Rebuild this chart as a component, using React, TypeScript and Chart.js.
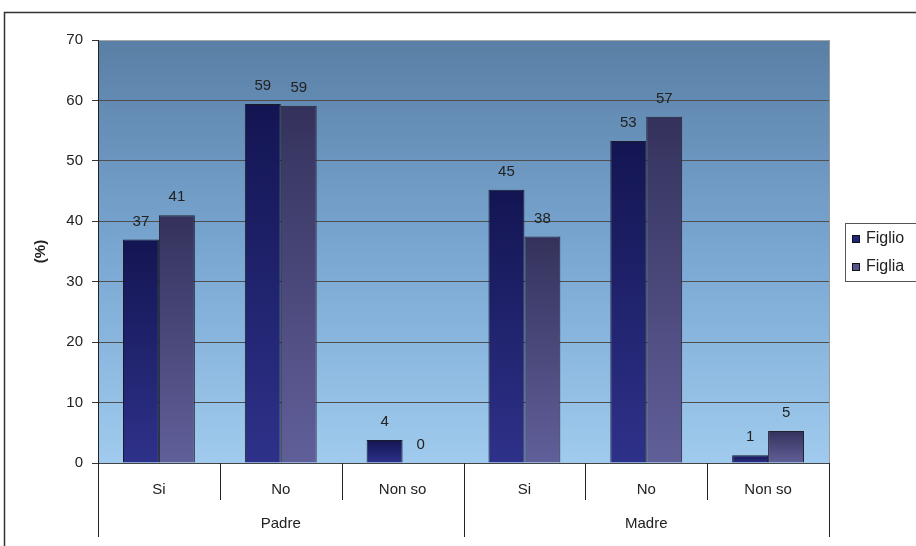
import React, { useEffect, useRef } from "react";
import { Chart, registerables } from "chart.js";

Chart.register(...registerables);

const groups = ["Padre", "Madre"];
const categories = ["Si", "No", "Non so", "Si", "No", "Non so"];
const figlio = [37, 59.4, 3.8, 45.2, 53.3, 1.3];
const figlia = [41, 59.1, 0, 37.5, 57.3, 5.3];
const seriesNames = ["Figlio", "Figlia"];
const yTitle = "(%)";

const FONT = "'Liberation Sans', Arial, sans-serif";
const W = 960;
const H = 560;

const barGradient = (top: string, bottom: string) => (ctx: any) => {
  const chart = ctx.chart;
  if (ctx.type !== "data" || !chart.chartArea) return bottom;
  const ys = chart.scales.y;
  const v = ctx.parsed ? ctx.parsed.y : ctx.raw;
  const y0 = ys.getPixelForValue(v);
  const y1 = ys.getPixelForValue(0);
  if (!isFinite(y0) || !isFinite(y1) || y1 - y0 < 1) return bottom;
  const g = chart.ctx.createLinearGradient(0, y0, 0, y1);
  g.addColorStop(0, top);
  g.addColorStop(1, bottom);
  return g;
};

const decor = {
  id: "decor",
  beforeDraw(chart: any) {
    const { ctx, chartArea: a } = chart;
    ctx.save();
    ctx.strokeStyle = "#333";
    ctx.lineWidth = 1.5;
    ctx.beginPath();
    ctx.moveTo(4.5, H);
    ctx.lineTo(4.5, 12.5);
    ctx.lineTo(W, 12.5);
    ctx.stroke();
    const g = ctx.createLinearGradient(0, a.top, 0, a.bottom);
    g.addColorStop(0, "#5a7fa5");
    g.addColorStop(0.5, "#79a7d2");
    g.addColorStop(1, "#a0cbee");
    ctx.fillStyle = g;
    ctx.fillRect(a.left, a.top, a.right - a.left, a.bottom - a.top);
    ctx.restore();
  },
  afterDatasetsDraw(chart: any) {
    const { ctx } = chart;
    ctx.save();
    ctx.font = `15px ${FONT}`;
    ctx.fillStyle = "#222";
    ctx.textAlign = "center";
    ctx.textBaseline = "middle";
    chart.data.datasets.forEach((ds: any, di: number) => {
      const meta = chart.getDatasetMeta(di);
      meta.data.forEach((el: any, i: number) => {
        ctx.fillText(String(Math.round(ds.data[i])), el.x, el.y - 18);
      });
    });
    ctx.restore();
  },
  afterDraw(chart: any) {
    const { ctx, chartArea: a } = chart;
    const xs = chart.scales.x;
    ctx.save();
    ctx.strokeStyle = "#9a9a9a";
    ctx.lineWidth = 1;
    ctx.beginPath();
    ctx.moveTo(Math.round(a.right) + 0.5, a.top);
    ctx.lineTo(Math.round(a.right) + 0.5, a.bottom);
    ctx.stroke();
    ctx.strokeStyle = "#444";
    ctx.beginPath();
    ctx.moveTo(a.left, Math.round(a.bottom) + 0.5);
    ctx.lineTo(a.right + 1, Math.round(a.bottom) + 0.5);
    ctx.stroke();

    const n = categories.length;
    const per = n / groups.length;
    const bounds: number[] = [];
    for (let i = 0; i <= n; i++) {
      if (i === 0) bounds.push(a.left);
      else if (i === n) bounds.push(a.right);
      else bounds.push((xs.getPixelForValue(i - 1) + xs.getPixelForValue(i)) / 2);
    }
    ctx.strokeStyle = "#222";
    bounds.forEach((bx, i) => {
      const isGroup = i % per === 0;
      const x = Math.round(bx) + 0.5;
      ctx.beginPath();
      ctx.moveTo(x, a.bottom);
      ctx.lineTo(x, isGroup ? a.bottom + 74 : a.bottom + 37);
      ctx.stroke();
    });
    ctx.font = `15px ${FONT}`;
    ctx.fillStyle = "#222";
    ctx.textAlign = "center";
    ctx.textBaseline = "middle";
    categories.forEach((c, i) => {
      ctx.fillText(c, xs.getPixelForValue(i), a.bottom + 27);
    });
    groups.forEach((gname, gi) => {
      const x0 = bounds[gi * per];
      const x1 = bounds[(gi + 1) * per];
      ctx.fillText(gname, (x0 + x1) / 2, a.bottom + 61);
    });

    const lx = 845;
    const ly = 223;
    ctx.strokeStyle = "#555";
    ctx.lineWidth = 1;
    ctx.strokeRect(lx + 0.5, ly + 0.5, W - lx + 10, 58);
    const sw = ["#20237a", "#55558c"];
    ctx.font = `16px ${FONT}`;
    chart.data.datasets.forEach((ds: any, i: number) => {
      const cy = ly + 16 + i * 28;
      ctx.fillStyle = sw[i];
      ctx.fillRect(852, cy - 4, 8, 8);
      ctx.strokeStyle = "#111";
      ctx.strokeRect(852.5, cy - 3.5, 7, 7);
      ctx.fillStyle = "#222";
      ctx.textAlign = "left";
      ctx.fillText(ds.label, 866, cy);
    });
    ctx.restore();
  },
};

export default function App() {
  const ref = useRef<HTMLCanvasElement | null>(null);
  useEffect(() => {
    if (!ref.current) return;
    const chart = new Chart(ref.current, {
      type: "bar",
      data: {
        labels: categories,
        datasets: [
          {
            label: seriesNames[0],
            data: figlio,
            backgroundColor: barGradient("#131552", "#2e3189"),
            borderColor: "#1a1a2a",
            borderWidth: 1,
          },
          {
            label: seriesNames[1],
            data: figlia,
            backgroundColor: barGradient("#34325c", "#615f99"),
            borderColor: "#22222e",
            borderWidth: 1,
          },
        ],
      },
      options: {
        responsive: false,
        animation: false,
        devicePixelRatio: 1,
        layout: { padding: { left: 0, top: 40, right: W - 829, bottom: H - 463 } },
        datasets: { bar: { categoryPercentage: 0.59, barPercentage: 1 } },
        plugins: { legend: { display: false }, tooltip: { enabled: false } },
        scales: {
          x: { display: false },
          y: {
            min: 0,
            max: 70,
            afterFit: (s: any) => {
              s.width = 98;
            },
            ticks: {
              stepSize: 10,
              padding: 9,
              color: "#222",
              font: { family: FONT, size: 15 },
            },
            grid: {
              color: (c: any) => (c.tick && c.tick.value === 70 ? "#a8a8a8" : "#4e4e4e"),
              tickColor: "#333",
              tickLength: 6,
              lineWidth: 1,
            },
            border: { display: true, color: "#222", width: 1 },
            title: {
              display: true,
              text: yTitle,
              color: "#222",
              font: { family: FONT, size: 15, weight: "bold" },
              padding: { top: 32, bottom: 0 },
            },
          },
        },
      },
      plugins: [decor],
    });
    return () => chart.destroy();
  }, []);
  return (
    <div
      style={{
        position: "fixed",
        left: 0,
        top: 0,
        width: 916,
        height: 546,
        overflow: "hidden",
        background: "#fff",
      }}
    >
      <canvas ref={ref} width={W} height={H} style={{ display: "block" }} />
    </div>
  );
}
